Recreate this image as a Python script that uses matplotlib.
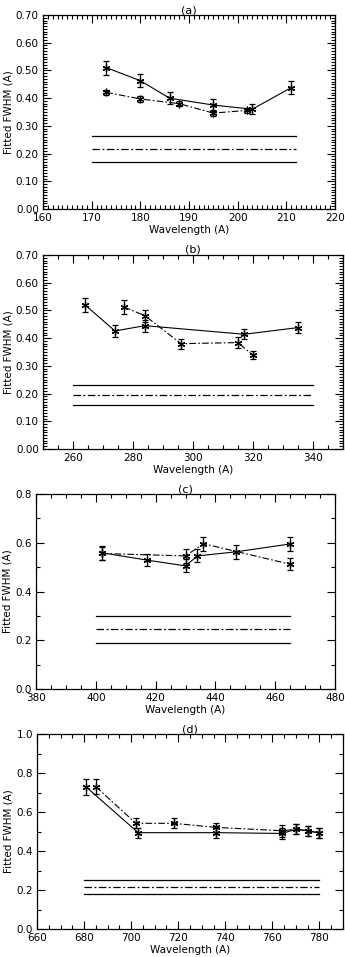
import numpy as np
import matplotlib
matplotlib.use("Agg")
import matplotlib.pyplot as plt
from matplotlib.ticker import MultipleLocator, FormatStrFormatter

# panel (a)
a_solid_x = [173, 180, 186, 195, 203, 211]
a_solid_y = [0.510, 0.463, 0.400, 0.375, 0.360, 0.438]
a_solid_e = [0.025, 0.024, 0.021, 0.022, 0.018, 0.023]
a_dash_x = [173, 180, 188, 195, 202]
a_dash_y = [0.421, 0.397, 0.380, 0.346, 0.356]
a_dash_e = [0.010, 0.010, 0.010, 0.012, 0.008]
a_levels = [0.262, 0.215, 0.168]
a_span = [170, 212]

# panel (b)
b_solid_x = [264, 274, 284, 317, 335]
b_solid_y = [0.520, 0.426, 0.445, 0.414, 0.438]
b_solid_e = [0.024, 0.022, 0.022, 0.018, 0.020]
b_dash_x = [277, 284, 296, 315, 320]
b_dash_y = [0.512, 0.481, 0.380, 0.384, 0.338]
b_dash_e = [0.026, 0.022, 0.018, 0.020, 0.015]
b_levels = [0.231, 0.194, 0.157]
b_span = [260, 340]

# panel (c)
c_solid_x = [402, 417, 430, 434, 447, 465]
c_solid_y = [0.559, 0.529, 0.505, 0.546, 0.563, 0.595]
c_solid_e = [0.029, 0.025, 0.027, 0.027, 0.028, 0.028]
c_dash_x = [402, 430, 436, 465]
c_dash_y = [0.556, 0.546, 0.596, 0.512]
c_dash_e = [0.026, 0.028, 0.028, 0.025]
c_levels = [0.299, 0.246, 0.187]
c_span = [400, 465]

# panel (d)
d_solid_x = [681, 703, 736, 764, 770, 775, 780]
d_solid_y = [0.727, 0.494, 0.494, 0.490, 0.511, 0.504, 0.492]
d_solid_e = [0.040, 0.026, 0.026, 0.030, 0.025, 0.025, 0.024]
d_dash_x = [685, 702, 718, 736, 764, 770, 775, 780]
d_dash_y = [0.730, 0.542, 0.542, 0.521, 0.504, 0.511, 0.504, 0.492]
d_dash_e = [0.040, 0.026, 0.026, 0.025, 0.030, 0.025, 0.025, 0.024]
d_levels = [0.250, 0.214, 0.178]
d_span = [680, 780]

panels = [
    dict(tag="(a)", sx=a_solid_x, sy=a_solid_y, se=a_solid_e, dx=a_dash_x, dy=a_dash_y, de=a_dash_e,
         lev=a_levels, span=a_span, xlim=(160, 220), ylim=(0, 0.70), xmaj=10, xmin=1, ymaj=0.1, ymin=0.01,
         fmt="%.2f", box=(43, 335, 15, 209)),
    dict(tag="(b)", sx=b_solid_x, sy=b_solid_y, se=b_solid_e, dx=b_dash_x, dy=b_dash_y, de=b_dash_e,
         lev=b_levels, span=b_span, xlim=(250, 350), ylim=(0, 0.70), xmaj=20, xmin=5, ymaj=0.1, ymin=0.01,
         fmt="%.2f", box=(43, 343, 255, 449)),
    dict(tag="(c)", sx=c_solid_x, sy=c_solid_y, se=c_solid_e, dx=c_dash_x, dy=c_dash_y, de=c_dash_e,
         lev=c_levels, span=c_span, xlim=(380, 480), ylim=(0, 0.8), xmaj=20, xmin=5, ymaj=0.2, ymin=0.1,
         fmt="%.1f", box=(36, 335, 494, 689)),
    dict(tag="(d)", sx=d_solid_x, sy=d_solid_y, se=d_solid_e, dx=d_dash_x, dy=d_dash_y, de=d_dash_e,
         lev=d_levels, span=d_span, xlim=(660, 790), ylim=(0, 1.0), xmaj=20, xmin=5, ymaj=0.2, ymin=0.1,
         fmt="%.1f", box=(37, 343, 734, 929)),
]

W, H = 345, 957
fig = plt.figure(figsize=(W / 100, H / 100), dpi=100)
plt.rcParams['font.family'] = ['DejaVu Sans']
fs = 7.5
dashdot = (0, (6, 2, 1.5, 2))
star = (6, 2, 0)

for p in panels:
    x0, x1, y0, y1 = p["box"]
    ax = fig.add_axes([x0 / W, 1 - y1 / H, (x1 - x0) / W, (y1 - y0) / H])
    ax.errorbar(p["sx"], p["sy"], yerr=p["se"], color="k", lw=0.8, ls="-", marker=star, ms=5.5,
                mew=0.9, capsize=2.5, elinewidth=0.9, capthick=0.9)
    ax.errorbar(p["dx"], p["dy"], yerr=p["de"], color="k", lw=0.8, ls=dashdot, marker=star, ms=5.5,
                mew=0.9, capsize=2.5, elinewidth=0.9, capthick=0.9)
    for i, lv in enumerate(p["lev"]):
        ax.plot(p["span"], [lv, lv], color="k", lw=0.9, ls="-" if i != 1 else dashdot)
    ax.set_xlim(*p["xlim"])
    ax.set_ylim(*p["ylim"])
    ax.xaxis.set_major_locator(MultipleLocator(p["xmaj"]))
    ax.xaxis.set_minor_locator(MultipleLocator(p["xmin"]))
    ax.yaxis.set_major_locator(MultipleLocator(p["ymaj"]))
    ax.yaxis.set_minor_locator(MultipleLocator(p["ymin"]))
    ax.yaxis.set_major_formatter(FormatStrFormatter(p["fmt"]))
    ax.tick_params(which="both", direction="in", top=True, right=True, labelsize=fs, width=0.8)
    ax.tick_params(which="major", length=6, pad=3)
    ax.tick_params(which="minor", length=3)
    for s in ax.spines.values():
        s.set_linewidth(0.9)
    ax.set_title(p["tag"], fontsize=fs + 0.5, pad=0)
    ax.set_xlabel("Wavelength (A)", fontsize=fs, labelpad=1)
    ax.set_ylabel("Fitted FWHM (A)", fontsize=fs, labelpad=2)

fig.savefig("out.png", dpi=100)
